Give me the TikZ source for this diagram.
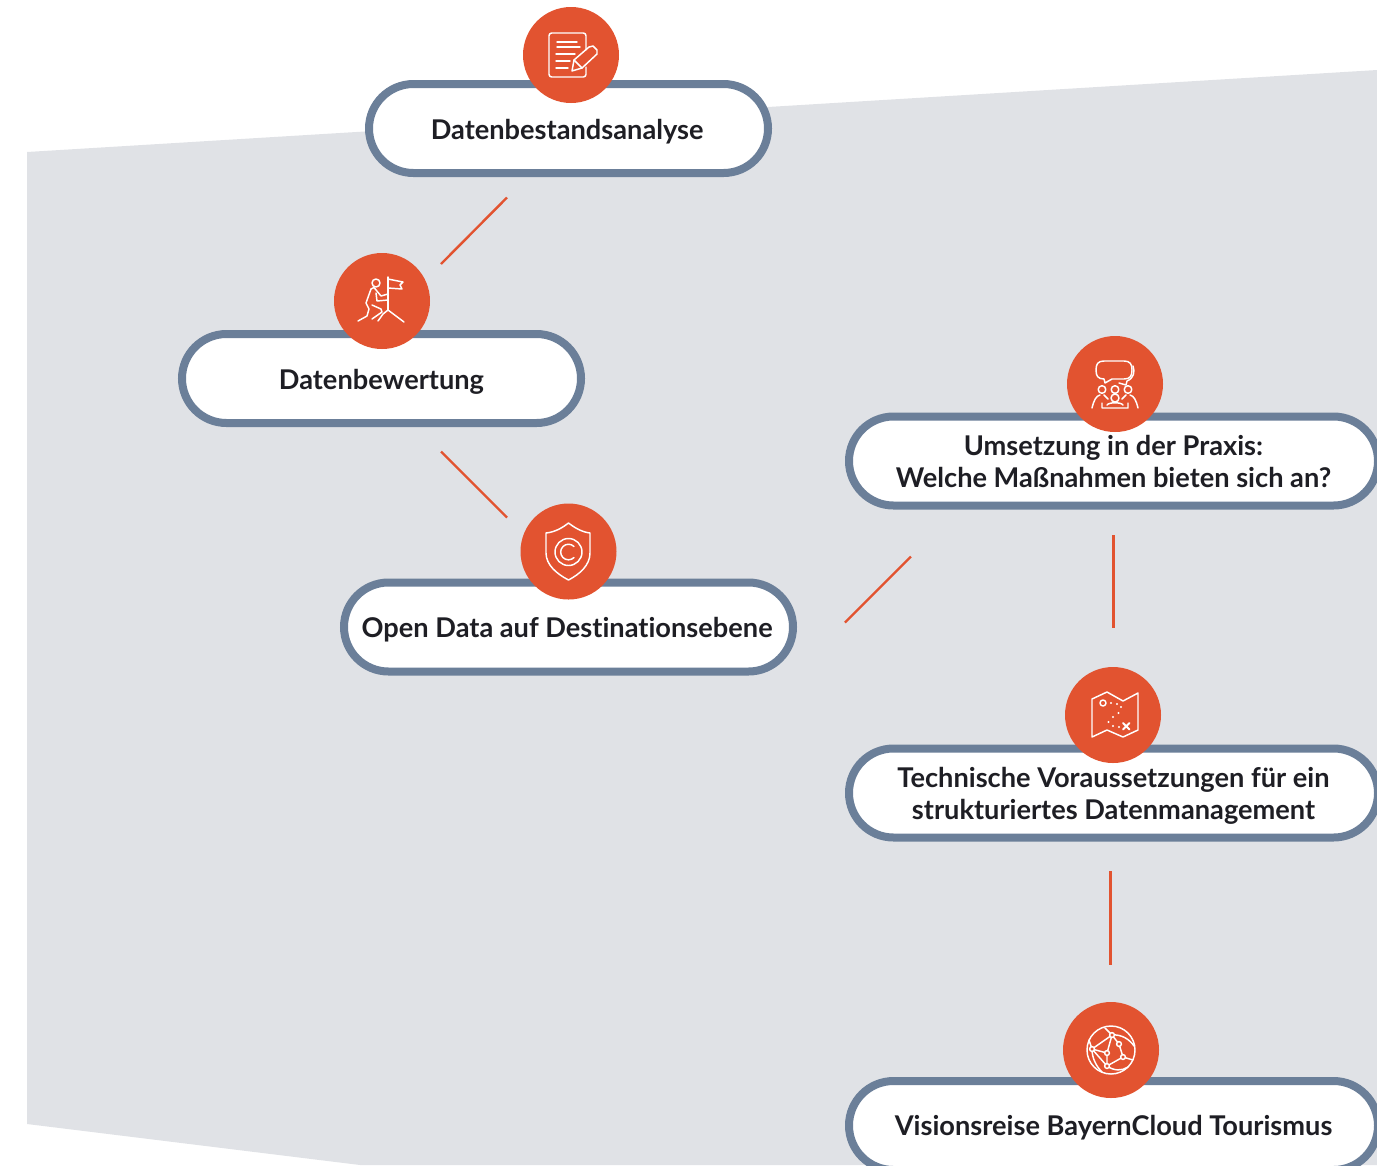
\documentclass[tikz,border=0pt]{standalone}
\usepackage{fontspec}
\setmainfont{Lato}[Ligatures=NoCommon]
\usetikzlibrary{shapes.misc}
\definecolor{bgGrey}{HTML}{E0E2E6}
\definecolor{pillLine}{HTML}{6B7F99}
\definecolor{accent}{HTML}{E25330}
\definecolor{inkText}{HTML}{1E1E24}
\newcommand{\lowr}[2]{\raisebox{-#1pt}[\height][\depth]{#2}}
\tikzset{
  pill/.style={rounded rectangle, draw=pillLine, line width=6pt, fill=white, inner sep=0pt,
    minimum height=66.75pt, align=center, text=inkText,
    font=\fontsize{20.4}{24}\selectfont\bfseries},
  badge/.style={circle, fill=accent, minimum size=72pt, inner sep=0pt},
  link/.style={draw=accent, line width=1.8pt},
  ico/.style={draw=white, line width=1.1pt, line cap=round, line join=round, fill=none},
  dotw/.style={fill=white, draw=none}
}
\begin{document}
\begin{tikzpicture}[x=0.75pt,y=-0.75pt]
\useasboundingbox (0,0) rectangle (1377,1165);
\clip (0,0) rectangle (1377,1165);
\fill[bgGrey] (27,152) -- (1377,70) -- (1377,1165) -- (360,1165) -- (27,1124) -- cycle;

\coordinate (l1a) at (507,197.5); \coordinate (l1b) at (441,264);
\coordinate (l2a) at (441,451.5); \coordinate (l2b) at (507,517.5);
\coordinate (l3a) at (911,556.5); \coordinate (l3b) at (845,622.5);
\coordinate (l4a) at (1113.5,535); \coordinate (l4b) at (1113.5,628);
\coordinate (l5a) at (1110.5,871); \coordinate (l5b) at (1110.5,965);
\draw[link] (l1a) -- (l1b);
\draw[link] (l2a) -- (l2b);
\draw[link] (l3a) -- (l3b);
\draw[link] (l4a) -- (l4b);
\draw[link] (l5a) -- (l5b);

\node[pill, minimum width=299.25pt] (pa) at (568.5,128.5) {\lowr{2.25}{Datenbestandsanalyse\kern2pt}};
\node[pill, minimum width=299.25pt] (pb) at (381.5,378.5) {\lowr{2.25}{Datenbewertung}};
\node[pill, minimum width=336.75pt] (pc) at (568.5,627) {\lowr{2.25}{Open Data auf Destinationsebene\kern2pt}};
\node[pill, minimum width=396.75pt] (pd) at (1113.5,461) {Umsetzung in der Praxis:\\Welche Maßnahmen bieten sich an?};
\node[pill, minimum width=396.75pt] (pe) at (1113.5,793) {\lowr{2.25}{Technische Voraussetzungen für ein}\\\lowr{2.25}{strukturiertes Datenmanagement}};
\node[pill, minimum width=396.75pt] (pf) at (1113.5,1125.5) {\lowr{1.5}{Visionsreise BayernCloud Tourismus}};

\node[badge] (ca) at (571,55) {};
\node[badge] (cb) at (382,301) {};
\node[badge] (cc) at (568.5,551.5) {};
\node[badge] (cd) at (1115,384) {};
\node[badge] (ce) at (1113,715) {};
\node[badge] (cf) at (1111,1050) {};

% document and pencil
\draw[ico, rounded corners=2pt] (586,50) -- (586,33) -- (549,33) -- (549,77) -- (586,77) -- (586,67);
\draw[ico] (557,42) -- (577,42) (557,47) -- (580,47) (556,54) -- (575,54) (556,61) -- (570,61) (556,68) -- (568,68);
\draw[ico] (574,60) -- (589,47) -- (593,46) -- (597,50) -- (597,54) -- (582,68) -- (572,71) -- cycle;
\draw[ico] (574,60) -- (582,68);

% climber
\draw[ico] (388,277) -- (388,310);
\draw[ico] (388,279) -- (403,282) -- (400,285) -- (402,289) -- (388,288);
\draw[ico] (376,283) circle[radius=4];
\draw[ico] (371,289) -- (374,287.5) -- (381,296) -- (388,294);
\draw[ico] (371,289) -- (366,303) -- (369,309) -- (367,316) -- (358,321);
\draw[ico] (376,293) -- (377,301) -- (388,300);
\draw[ico] (372,305) -- (381,309) -- (382,312) -- (372,319);
\draw[ico] (378,321) -- (383,314) -- (388,310) -- (404,322);

% shield
\draw[ico] (568.5,523) .. controls (575,528) and (582,532) .. (590,533) -- (590,553) .. controls (590,565) and (580,574) .. (568.5,580) .. controls (557,574) and (546,565) .. (546,553) -- (546,533) .. controls (555,532) and (562,528) .. (568.5,523) -- cycle;
\draw[ico] (568.5,552) circle[radius=13.5];
\draw[ico] (574,546.5) arc[start angle=-45,end angle=-315,radius=7.8];

% meeting
\draw[ico] (1104,379) -- (1105,383) -- (1112,379) -- (1124,379) .. controls (1130,379) and (1132,376) .. (1132,370) .. controls (1132,364) and (1130,361) .. (1124,361) -- (1104,361) .. controls (1098,361) and (1096,364) .. (1096,370) .. controls (1096,376) and (1098,379) .. (1104,379);
\draw[ico] (1133,366) .. controls (1135,372) and (1134,378) .. (1127,381) -- (1126,385) -- (1119,383);
\draw[ico] (1102,389.5) circle[radius=3.8] (1115,389.5) circle[radius=3.8] (1128,389.5) circle[radius=3.8] (1115,398) circle[radius=4];
\draw[ico] (1092,408) .. controls (1094,400) and (1096,396) .. (1100,395) (1104,395) -- (1108,399);
\draw[ico] (1138,408) .. controls (1136,400) and (1134,396) .. (1130,395) (1126,395) -- (1122,399);
\draw[ico] (1102,403) -- (1102,408) -- (1128,408) -- (1128,403) (1107,405) .. controls (1109,402) and (1121,402) .. (1123,405);

% map
\draw[ico] (1092,699) -- (1107,692) -- (1123,701) -- (1138,693) -- (1138,730) -- (1123,737) -- (1107,730) -- (1092,737) -- cycle;
\draw[ico] (1103,703) circle[radius=3];
\foreach \px/\py in {1111/703,1117/704,1121/707,1118.5/713,1113/717,1108.5/722,1113/726,1119/727}
  \fill[dotw] (\px,\py) circle[radius=1.2];
\draw[ico, line width=1.4pt] (1123,723) -- (1129.5,729.5) (1129.5,723) -- (1123,729.5);

% globe
\draw[ico] (1111,1050) circle[radius=24];
\coordinate (g1) at (1112,1035); \coordinate (g2) at (1092,1049); \coordinate (g3) at (1107,1053);
\coordinate (g4) at (1119,1044); \coordinate (g5) at (1123,1057); \coordinate (g6) at (1107,1066);
\draw[ico] (g1) -- (g2) -- (g3) -- (g1) -- (g4) -- (g5) -- (g6) -- (g3) (g2) -- (g6);
\draw[ico] (g1) .. controls (1122,1034) and (1130,1040) .. (1134,1046);
\draw[ico] (g1) -- (1105,1028) (g2) -- (1089,1040) (g2) .. controls (1092,1058) and (1096,1066) .. (1102,1072);
\draw[ico] (g6) .. controls (1114,1071) and (1122,1071) .. (1128,1067) (g5) -- (1133,1060);
\foreach \g in {g1,g2,g3,g4,g5,g6}
  \draw[ico, fill=accent] (\g) circle[radius=2.4];
\end{tikzpicture}
\end{document}
